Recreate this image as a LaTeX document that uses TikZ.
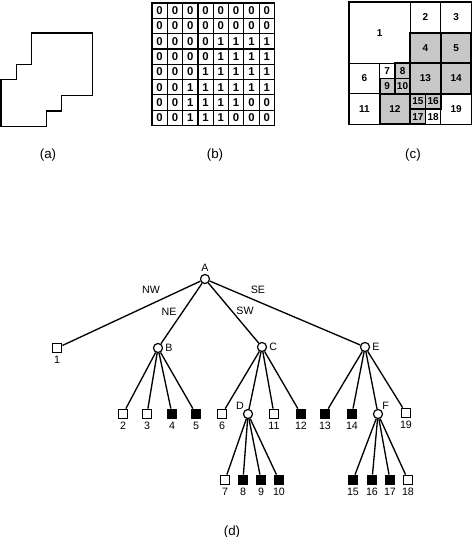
\documentclass[tikz,border=0pt]{standalone}
\usepackage{fontspec}
\setmainfont{Liberation Sans}
\begin{document}
\begin{tikzpicture}[x=0.75pt,y=-0.75pt,
  caption/.style={font=\fontsize{10}{12}\selectfont},
  gridnum/.style={font=\bfseries\fontsize{8.5}{10}\selectfont,inner sep=0pt},
  gridline/.style={line width=0.9pt},
  qnum/.style={font=\bfseries\fontsize{7.5}{9}\selectfont,inner sep=0pt},
  tlab/.style={font=\fontsize{8}{9}\selectfont,inner sep=1pt},
  inode/.style={circle,draw,fill=white,line width=0.9pt,minimum size=6.8pt,inner sep=0pt},
  wleaf/.style={rectangle,draw,fill=white,line width=0.9pt,minimum size=7.2pt,inner sep=0pt},
  bleaf/.style={rectangle,draw,fill=black,line width=0.9pt,minimum size=7.2pt,inner sep=0pt},
  edge/.style={line width=1pt},
  every label/.style={font=\fontsize{8}{9}\selectfont,inner sep=1pt},
  label distance=0.5pt]
\useasboundingbox (0,0) rectangle (474,537);
% ---------- (a) polygon
\def\ux{15.2}\def\uy{15.6}
\draw[line width=1pt] ({1+2*\ux},{33+0*\uy}) -- ({1+6*\ux},{33+0*\uy}) -- ({1+6*\ux},{33+4*\uy})
  -- ({1+4*\ux},{33+4*\uy}) -- ({1+4*\ux},{33+5*\uy}) -- ({1+3*\ux},{33+5*\uy})
  -- ({1+3*\ux},{33+6*\uy}) -- ({1+0*\ux},{33+6*\uy}) -- ({1+0*\ux},{33+3*\uy})
  -- ({1+1*\ux},{33+3*\uy}) -- ({1+1*\ux},{33+2*\uy}) -- ({1+2*\ux},{33+2*\uy}) -- cycle;
\node[caption] (capa) at (48,155) {(a)};
% ---------- (b) grid
\def\gx{152}\def\gy{3}\def\gc{15.3}
\foreach \i in {1,...,7} {
  \draw[gridline] ({\gx+\i*\gc},\gy) -- ({\gx+\i*\gc},{\gy+8*\gc});
  \draw[gridline] (\gx,{\gy+\i*\gc}) -- ({\gx+8*\gc},{\gy+\i*\gc});
}
\draw[line width=1.3pt] (\gx,\gy) rectangle ({\gx+8*\gc},{\gy+8*\gc});
\foreach \r/\row in {0/{0,0,0,0,0,0,0,0},1/{0,0,0,0,0,0,0,0},2/{0,0,0,0,1,1,1,1},3/{0,0,0,0,1,1,1,1},
                     4/{0,0,0,1,1,1,1,1},5/{0,0,1,1,1,1,1,1},6/{0,0,1,1,1,1,0,0},7/{0,0,1,1,1,0,0,0}} {
  \foreach \v [count=\c from 0] in \row {
    \node[gridnum] (b-\r-\c) at ({\gx+(\c+0.5)*\gc},{\gy+(\r+0.5)*\gc}) {\v};
  }
}
\node[caption] (capb) at (215,155) {(b)};
% ---------- (c) quadtree blocks
\def\qx{349}\def\qy{2}\def\qc{15.3}
\foreach \x/\y/\w/\h/\l in {0/0/4/4/1,4/0/2/2/2,6/0/2/2/3,0/4/2/2/6,2/4/1/1/7,0/6/2/2/11,5/7/1/1/18,6/6/2/2/19} {
  \draw[line width=0.8pt] ({\qx+\x*\qc},{\qy+\y*\qc}) rectangle ({\qx+(\x+\w)*\qc},{\qy+(\y+\h)*\qc});
  \node[qnum] (c-\l) at ({\qx+(\x+\w/2)*\qc},{\qy+(\y+\h/2)*\qc}) {\l};
}
\foreach \x/\y/\w/\h/\l in {4/2/2/2/4,6/2/2/2/5,3/4/1/1/8,2/5/1/1/9,3/5/1/1/10,2/6/2/2/12,4/4/2/2/13,6/4/2/2/14,4/6/1/1/15,5/6/1/1/16,4/7/1/1/17} {
  \draw[line width=1.4pt,fill=black!22] ({\qx+\x*\qc},{\qy+\y*\qc}) rectangle ({\qx+(\x+\w)*\qc},{\qy+(\y+\h)*\qc});
  \node[qnum] (c-\l) at ({\qx+(\x+\w/2)*\qc},{\qy+(\y+\h/2)*\qc}) {\l};
}
\draw[line width=1pt] (\qx,\qy) rectangle ({\qx+8*\qc},{\qy+8*\qc});
\node[caption] (capc) at (413,155) {(c)};
% ---------- (d) tree
\node[inode,label=above:A] (A) at (205,279) {};
\node[wleaf,label=below:1] (n1) at (57,348) {};
\node[inode,label=right:B] (B) at (158,348) {};
\node[inode,label=right:C] (C) at (262,347) {};
\node[inode,label=right:E] (E) at (365,347) {};
\node[wleaf,label=below:2] (n2) at (123,414) {};
\node[wleaf,label=below:3] (n3) at (147,414) {};
\node[bleaf,label=below:4] (n4) at (172,414) {};
\node[bleaf,label=below:5] (n5) at (196,414) {};
\node[wleaf,label=below:6] (n6) at (222,414) {};
\node[inode,label={[label distance=-1pt]above left:D}] (D) at (248,414) {};
\node[wleaf,label=below:11] (n11) at (274,414) {};
\node[bleaf,label=below:12] (n12) at (301,414) {};
\node[bleaf,label=below:13] (n13) at (325,414) {};
\node[bleaf,label=below:14] (n14) at (352,414) {};
\node[inode,label={[label distance=-1pt]above right:F}] (F) at (378,414) {};
\node[wleaf,label=below:19] (n19) at (406,413) {};
\node[wleaf,label=below:7] (n7) at (225,480) {};
\node[bleaf,label=below:8] (n8) at (243,480) {};
\node[bleaf,label=below:9] (n9) at (261,480) {};
\node[bleaf,label=below:10] (n10) at (279,480) {};
\node[bleaf,label=below:15] (n15) at (353,480) {};
\node[bleaf,label=below:16] (n16) at (372,480) {};
\node[bleaf,label=below:17] (n17) at (390,480) {};
\node[wleaf,label=below:18] (n18) at (408,480) {};
\foreach \p/\c in {A/n1,A/B,A/C,A/E,B/n2,B/n3,B/n4,B/n5,C/n6,C/D,C/n11,C/n12,E/n13,E/n14,E/F,E/n19,
                   D/n7,D/n8,D/n9,D/n10,F/n15,F/n16,F/n17,F/n18}
  \draw[edge] (\p) -- (\c);
\node[tlab] (lnw) at (151,290) {NW};
\node[tlab] (lne) at (169,312) {NE};
\node[tlab] (lse) at (258,290) {SE};
\node[tlab] (lsw) at (245,311) {SW};
\node[caption] (capd) at (232,532) {(d)};
\end{tikzpicture}
\end{document}
